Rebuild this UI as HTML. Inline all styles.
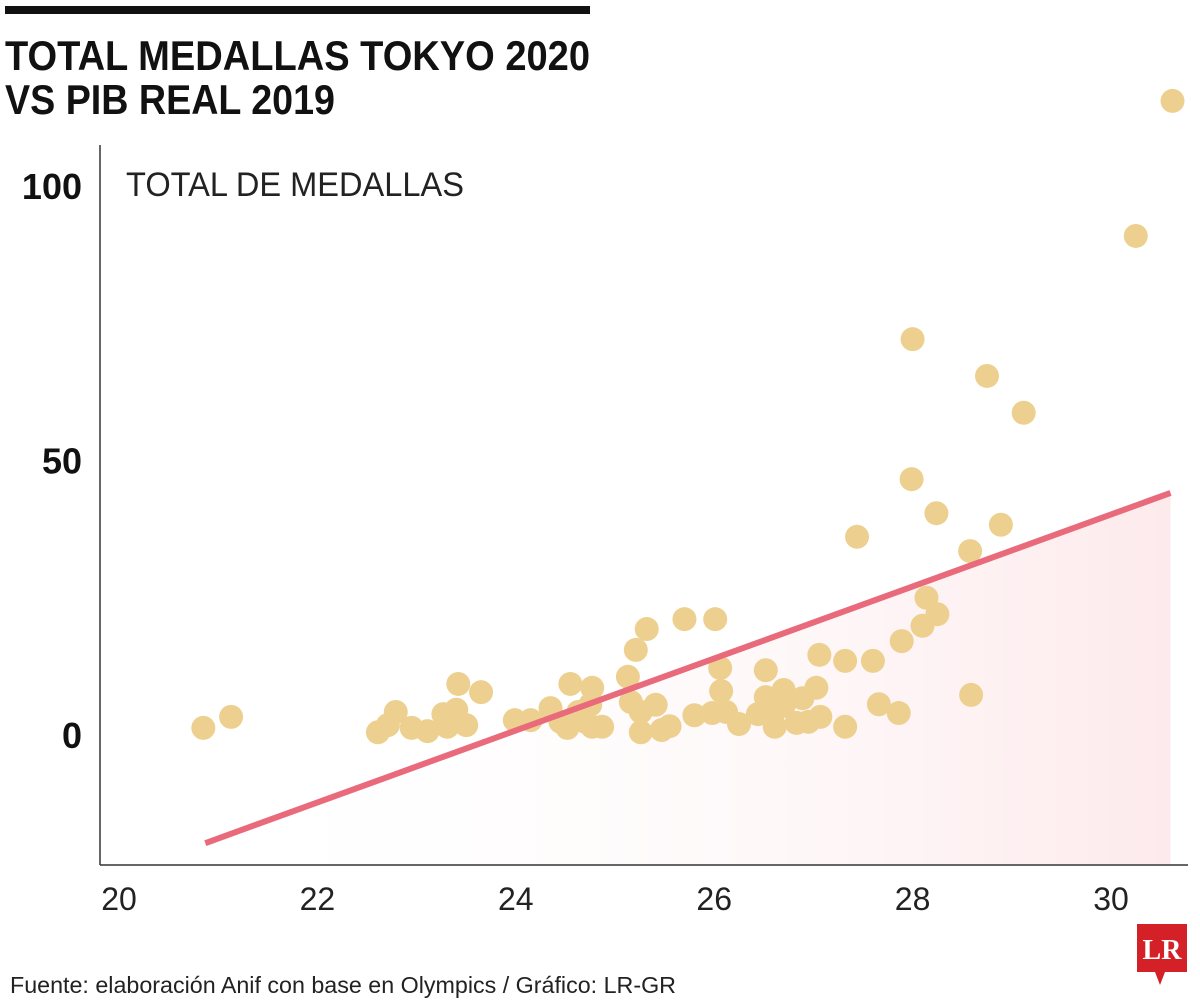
<!DOCTYPE html>
<html><head><meta charset="utf-8"><style>
html,body{margin:0;padding:0;background:#fff;}
svg{display:block;}
</style></head><body>
<svg id="chart" width="1200" height="1001" viewBox="0 0 1200 1001" xmlns="http://www.w3.org/2000/svg">
<defs>
<linearGradient id="fillGrad" x1="0" y1="0" x2="1" y2="0">
<stop offset="0" stop-color="#ffffff" stop-opacity="0"/>
<stop offset="1" stop-color="#fdeaec"/>
</linearGradient>
</defs>
<rect x="5" y="6" width="585" height="8" fill="#111"/>
<text x="5" y="70" font-family="Liberation Sans Narrow, Liberation Sans, sans-serif" font-weight="bold" font-size="42" textLength="585" lengthAdjust="spacingAndGlyphs" fill="#111">TOTAL MEDALLAS TOKYO 2020</text>
<text x="5" y="114" font-family="Liberation Sans Narrow, Liberation Sans, sans-serif" font-weight="bold" font-size="42" textLength="330" lengthAdjust="spacingAndGlyphs" fill="#111">VS PIB REAL 2019</text>
<text x="126" y="196" font-family="Liberation Sans Narrow, Liberation Sans, sans-serif" font-size="34" textLength="338" lengthAdjust="spacingAndGlyphs" fill="#222">TOTAL DE MEDALLAS</text>
<g id="fill"></g>
<g id="axes"></g>
<g id="dots"></g>
<g id="trend"></g>
<text x="10" y="993" font-family="Liberation Sans Narrow, Liberation Sans, sans-serif" font-size="23" textLength="666" lengthAdjust="spacingAndGlyphs" fill="#222">Fuente: elaboración Anif con base en Olympics / Gráfico: LR-GR</text>
<g>
<rect x="1137" y="924" width="50" height="48" fill="#d42027"/>
<polygon points="1155,972 1165,972 1160,985" fill="#d42027"/>
<text x="1162" y="959" text-anchor="middle" font-family="Liberation Serif, serif" font-weight="bold" font-size="28" fill="#fff">LR</text>
</g>
</svg>
<script>
const xTicks=[20,22,24,26,28,30];
const yTicks=[0,50,100];
const gdpLog=[20.85,21.13,22.61,22.71,22.79,22.95,23.11,23.27,23.31,23.40,23.42,23.50,23.65,23.99,24.15,24.35,24.45,24.52,24.55,24.63,24.70,24.75,24.77,24.77,24.87,25.13,25.16,25.21,25.26,25.26,25.32,25.41,25.47,25.55,25.70,25.80,25.98,26.01,26.06,26.07,26.12,26.25,26.44,26.52,26.52,26.59,26.61,26.70,26.70,26.83,26.89,26.95,27.03,27.06,27.07,27.32,27.32,27.44,27.60,27.66,27.86,27.89,27.99,28.00,28.10,28.14,28.24,28.25,28.58,28.59,28.75,28.89,29.12,30.25,30.62];
const medals=[1.3,3.3,0.5,1.8,4.2,1.3,0.7,3.8,1.5,4.6,9.3,1.8,7.8,2.7,2.7,4.9,2.4,1.3,9.3,4.2,2.4,5.5,8.6,1.5,1.5,10.6,6.0,15.5,4.2,0.5,19.3,5.5,0.9,1.6,21.1,3.6,4.0,21.1,12.2,8.0,4.2,2.0,3.8,11.8,6.9,3.8,1.5,8.2,5.3,2.2,6.7,2.4,8.6,14.6,3.3,1.5,13.5,36.1,13.5,5.6,4.0,17.1,46.6,72.1,19.9,25.0,40.4,22.0,33.5,7.3,65.4,38.3,58.7,90.9,115.5];
const trendX=[20.87,30.6];
const trendY=[-19.7,44.1];
const NS='http://www.w3.org/2000/svg';
const X=v=>119+(v-20)*99.2;
const Y=v=>735-v*5.49;
function mk(tag,attrs,parent){const e=document.createElementNS(NS,tag);for(const k in attrs)e.setAttribute(k,attrs[k]);parent.appendChild(e);return e;}
const axes=document.getElementById('axes');
const yl=mk('line',{x1:100,y1:145,x2:100,y2:865,stroke:'#333','stroke-width':1.5},axes);


const xl=mk('line',{x1:100,y1:865,x2:1188,y2:865,stroke:'#333','stroke-width':1.5},axes);


xTicks.forEach(t=>{const e=mk('text',{x:X(t),y:910,'text-anchor':'middle','font-family':'Liberation Sans Narrow, Liberation Sans, sans-serif','font-size':32,fill:'#222'},axes);e.textContent=t;

});
yTicks.forEach(t=>{const e=mk('text',{x:82,y:Y(t)+13,'text-anchor':'end','font-family':'Liberation Sans Narrow, Liberation Sans, sans-serif','font-weight':'bold','font-size':36,fill:'#111'},axes);e.textContent=t;

});
const fill=mk('polygon',{points:`${X(trendX[0])},${Y(trendY[0])} ${X(trendX[1])},${Y(trendY[1])} ${X(trendX[1])},864 ${X(trendX[0])},864`,fill:'url(#fillGrad)'},document.getElementById('fill'));


const dots=document.getElementById('dots');
gdpLog.forEach((g,i)=>{const c=mk('circle',{cx:X(g),cy:Y(medals[i]),r:12,fill:'#edd08f'},dots);

});
const tl=mk('line',{x1:X(trendX[0]),y1:Y(trendY[0]),x2:X(trendX[1]),y2:Y(trendY[1]),stroke:'#e96a7b','stroke-width':6},document.getElementById('trend'));


</script>
</body></html>
